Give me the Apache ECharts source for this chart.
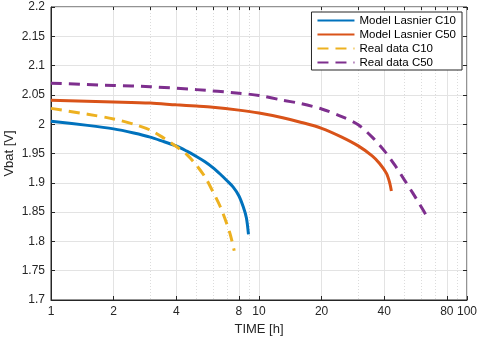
<!DOCTYPE html>
<html>
<head>
<meta charset="utf-8">
<script src="https://cdn.jsdelivr.net/npm/echarts@6/dist/echarts.min.js"></script>
<style>
  html, body { margin: 0; padding: 0; background: #fff; }
  #chart { width: 480px; height: 338px; }
</style>
</head>
<body>
<div id="chart"></div>
<script>
// values (time in hours, voltage in V)
var c10ModelT = [1, 1.5, 2, 2.5, 3, 3.5, 4, 4.5, 5, 5.5, 6, 6.5, 7, 7.5, 8, 8.4, 8.7, 8.9];
var c10ModelV = [2.005, 1.998, 1.992, 1.985, 1.978, 1.970, 1.963, 1.954, 1.945, 1.936, 1.926, 1.915, 1.904, 1.893, 1.878, 1.859, 1.840, 1.812];

var c50ModelT = [1, 2, 3, 4, 5, 6, 8, 10, 13, 16, 20, 25, 30, 35, 38, 41, 42.5, 43.3];
var c50ModelV = [2.041, 2.038, 2.036, 2.033, 2.031, 2.029, 2.024, 2.019, 2.011, 2.003, 1.993, 1.978, 1.963, 1.946, 1.933, 1.916, 1.900, 1.886];

var c10RealT = [1, 1.5, 2, 2.5, 3, 3.5, 4, 4.5, 5, 5.5, 6, 6.5, 7, 7.3, 7.6];
var c10RealV = [2.027, 2.017, 2.009, 2.000, 1.990, 1.976, 1.962, 1.948, 1.930, 1.910, 1.885, 1.860, 1.830, 1.810, 1.784];

var c50RealT = [1, 2, 3, 5, 8, 10, 13, 16, 20, 25, 30, 35, 40, 45, 50, 55, 60, 64.5];
var c50RealV = [2.070, 2.066, 2.064, 2.059, 2.053, 2.049, 2.041, 2.035, 2.026, 2.013, 1.999, 1.978, 1.955, 1.930, 1.905, 1.882, 1.860, 1.841];

var xTicks = [1, 2, 4, 8, 10, 20, 40, 80, 100];
var xMinor = [3, 5, 6, 7, 9, 30, 50, 60, 70, 90];

function pairs(t, v) {
    return t.map(function (x, i) { return [x, v[i]]; });
}

var chart = echarts.init(document.getElementById('chart'));
var axisColor = '#262626';
var font = 'Liberation Sans, Arial, sans-serif';
var dash = [11, 7];

var option = {
    animation: false,
    textStyle: { fontFamily: font },
    color: ['#0072BD', '#D95319', '#EDB120', '#7E2F8E'],
    grid: {
        left: 51, right: 13, top: 7, bottom: 38,
        containLabel: false, outerBoundsMode: 'none',
        show: true, borderColor: axisColor, borderWidth: 1
    },
    legend: {
        orient: 'vertical',
        right: 18, top: 12,
        itemWidth: 37, itemHeight: 8, itemGap: 1,
        padding: [2, 6, 1, 5],
        backgroundColor: '#fff',
        borderColor: axisColor, borderWidth: 1,
        itemStyle: { opacity: 0 },
        textStyle: { fontSize: 11.5, lineHeight: 13, color: '#000', fontFamily: font },
        data: ['Model Lasnier C10', 'Model Lasnier C50', 'Real data C10', 'Real data C50']
    },
    xAxis: [
        {
            type: 'log', logBase: 10, min: 1, max: 100,
            name: 'TIME [h]', nameLocation: 'middle', nameGap: 21,
            nameTextStyle: { fontSize: 13, color: axisColor },
            axisLine: { lineStyle: { color: axisColor } },
            axisTick: { inside: true, length: 4, customValues: xTicks, lineStyle: { color: axisColor } },
            axisLabel: { customValues: xTicks, fontSize: 12, color: axisColor, margin: 6 },
            splitLine: { show: true, lineStyle: { color: '#e3e3e3', width: 1 } }
        },
        {
            type: 'log', logBase: 10, min: 1, max: 100,
            axisLine: { show: false },
            axisTick: { inside: true, length: 2, customValues: xMinor, lineStyle: { color: axisColor } },
            axisLabel: { show: false },
            splitLine: { show: true, lineStyle: { color: '#dcdcdc', type: [1, 2], width: 1 } }
        },
        {
            type: 'log', logBase: 10, min: 1, max: 100, position: 'top',
            axisLine: { show: false },
            axisTick: { inside: true, length: 3, customValues: xTicks.concat(xMinor), lineStyle: { color: axisColor } },
            axisLabel: { show: false },
            splitLine: { show: false }
        }
    ],
    yAxis: [
        {
            type: 'value', min: 1.7, max: 2.2, interval: 0.05,
            name: 'Vbat [V]', nameLocation: 'middle', nameGap: 35, nameMoveOverlap: false,
            nameTextStyle: { fontSize: 13, color: axisColor },
            axisLine: { show: true, lineStyle: { color: axisColor } },
            axisTick: { show: true, inside: true, length: 4, lineStyle: { color: axisColor } },
            axisLabel: { fontSize: 12, color: axisColor, margin: 6 },
            splitLine: { show: true, lineStyle: { color: '#e3e3e3', width: 1 } }
        },
        {
            type: 'value', min: 1.7, max: 2.2, interval: 0.05, position: 'right',
            axisLine: { show: false },
            axisTick: { show: true, inside: true, length: 4, lineStyle: { color: axisColor } },
            axisLabel: { show: false },
            splitLine: { show: false }
        }
    ],
    series: [
        {
            name: 'Model Lasnier C10', type: 'line', smooth: 0.3, symbol: 'none',
            lineStyle: { width: 3 }, data: pairs(c10ModelT, c10ModelV)
        },
        {
            name: 'Model Lasnier C50', type: 'line', smooth: 0.3, symbol: 'none',
            lineStyle: { width: 3 }, data: pairs(c50ModelT, c50ModelV)
        },
        {
            name: 'Real data C10', type: 'line', smooth: 0.3, symbol: 'none',
            lineStyle: { width: 3, type: dash }, data: pairs(c10RealT, c10RealV)
        },
        {
            name: 'Real data C50', type: 'line', smooth: 0.3, symbol: 'none',
            lineStyle: { width: 3, type: dash }, data: pairs(c50RealT, c50RealV)
        }
    ]
};
chart.setOption(option);
window.onresize = chart.resize;
</script>
</body>
</html>
